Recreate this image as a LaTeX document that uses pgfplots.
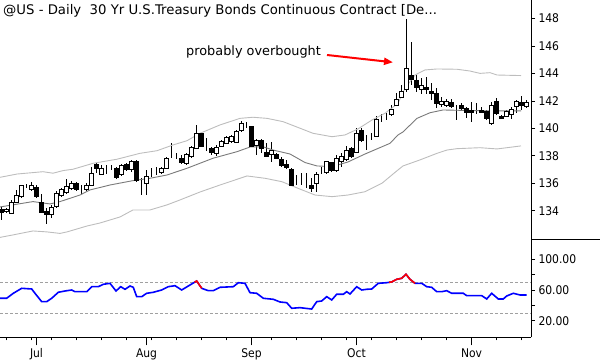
\documentclass[border=0pt]{standalone}
\usepackage{fontspec}
\setmainfont{DejaVu Sans Condensed}
\newfontfamily\titlefont{DejaVu Sans}
\usepackage{pgfplots}
\pgfplotsset{compat=1.18}
\usepackage{pgfplotstable}
\usetikzlibrary{arrows.meta}
\definecolor{midgray}{HTML}{7A7A7A}
\definecolor{bandgray}{HTML}{BDBDBD}
\definecolor{dashgray}{HTML}{A0A0A0}
\definecolor{rsiblue}{HTML}{0000FF}
\definecolor{rsired}{HTML}{FF0000}
\pgfplotstableread{
i o h l c
0 134.05 134.29 133.32 133.88
1 133.93 134.22 133.81 134.10
2 133.81 134.78 133.76 134.61
3 134.61 135.51 134.56 135.14
4 135.02 135.87 134.95 135.80
5 135.80 135.95 135.66 135.80
6 135.51 136.11 135.44 135.80
7 135.68 135.87 134.90 135.02
8 134.61 135.22 133.85 133.85
9 133.93 134.17 133.01 133.69
10 133.69 134.42 133.45 134.25
11 134.29 135.44 134.22 135.22
12 135.14 135.63 135.02 135.56
13 135.31 136.29 135.24 135.75
14 135.58 136.16 135.51 136.00
15 136.00 136.11 135.46 135.51
16 135.58 135.87 135.20 135.58
17 135.51 136.00 135.44 135.80
18 135.87 137.21 135.82 136.73
19 137.38 137.45 136.73 137.04
20 136.65 137.33 136.60 137.09
21 137.09 137.33 136.65 137.09
22 137.16 137.33 136.97 137.16
23 137.09 137.21 136.31 136.41
24 136.60 137.38 136.55 137.26
25 137.33 137.45 136.89 136.97
26 136.97 137.70 136.84 137.55
27 137.57 137.70 136.11 136.19
28 136.19 136.36 135.14 136.19
29 135.95 136.97 135.14 136.48
30 136.73 137.09 136.48 136.73
31 136.97 137.16 136.60 136.97
32 136.77 137.21 136.67 137.09
33 137.09 137.94 137.02 137.82
34 137.99 138.91 137.82 137.99
35 138.06 138.23 137.75 138.06
36 137.82 138.06 137.40 137.50
37 137.45 138.18 137.33 138.06
38 137.94 138.72 137.87 138.62
39 138.55 140.25 138.48 139.59
40 139.59 139.69 138.62 138.66
41 138.55 139.28 138.37 138.55
42 138.55 138.62 138.06 138.23
43 138.18 138.79 137.99 138.62
44 138.66 139.15 138.62 139.03
45 138.91 139.44 138.86 139.32
46 139.03 139.52 138.96 139.39
47 138.96 139.88 138.91 139.76
48 139.83 140.54 139.76 140.32
49 140.25 140.49 140.01 140.25
50 140.12 140.17 138.62 138.66
51 138.72 139.20 138.06 139.10
52 139.15 139.20 138.18 138.55
53 138.23 138.91 137.89 137.94
54 138.13 139.03 137.57 138.42
55 138.06 138.18 137.77 137.82
56 137.70 137.94 137.18 137.26
57 137.40 137.70 137.02 137.16
58 137.02 137.09 135.80 135.87
59 136.11 136.60 135.87 136.11
60 136.04 136.73 135.87 136.04
61 136.04 136.73 135.63 136.04
62 135.87 136.36 135.38 135.63
63 135.95 136.84 135.38 136.67
64 136.84 137.21 136.67 136.84
65 136.77 137.64 136.67 137.57
66 137.50 137.57 136.84 136.92
67 136.92 138.06 136.84 137.82
68 137.57 138.23 137.21 137.94
69 137.70 138.72 137.64 138.37
70 138.55 138.66 137.82 137.94
71 138.23 140.01 138.18 139.64
72 139.88 140.01 139.03 139.10
73 139.28 139.52 138.42 139.28
74 139.39 139.69 139.15 139.39
75 139.44 140.90 139.39 140.61
76 140.85 141.05 140.49 140.85
77 140.81 141.10 140.61 140.81
78 140.98 141.70 140.90 141.34
79 141.70 142.56 141.63 142.12
80 142.26 143.16 142.19 142.72
81 142.87 148.01 142.63 144.38
82 143.82 146.32 143.16 143.53
83 143.48 143.89 142.67 143.01
84 142.82 143.65 142.51 143.16
85 143.01 143.72 142.51 142.82
86 142.67 143.28 142.05 142.51
87 142.56 142.92 141.45 141.81
88 141.75 142.27 141.53 141.94
89 141.70 142.17 141.56 141.98
90 141.85 142.12 141.50 141.56
91 141.46 141.70 140.59 141.46
92 141.70 141.82 141.32 141.46
93 141.46 141.58 140.74 141.17
94 141.29 141.95 140.49 141.14
95 141.22 141.87 141.05 141.22
96 141.29 141.58 141.10 141.14
97 141.22 141.34 140.59 140.74
98 140.37 141.95 140.25 141.70
99 141.94 142.19 140.98 141.10
100 140.88 140.98 140.70 140.72
101 140.90 141.34 140.85 141.22
102 140.98 141.58 140.66 141.34
103 141.60 142.04 141.10 141.99
104 141.92 142.34 141.32 141.68
105 141.60 142.04 141.46 141.87
}\candles
\begin{document}
\begin{tikzpicture}
\useasboundingbox (0bp,0bp) rectangle (600bp,360bp);
\pgfplotsset{every axis/.append style={scale only axis, anchor=south west,
  xmin=-0.3, xmax=105.9, width=531bp,
  /pgf/number format/assume math mode=true,
  tick label style={font=\fontsize{12}{14}\selectfont, black},
  tick style={black, line width=0.8bp},
  axis line style={black, line width=1bp, -}}}
% ---------- main panel: wicks, bands, right axis
\begin{axis}[at={(0bp,120bp)}, height=240bp, ymin=131.86, ymax=149.36,
  axis x line=none, axis y line*=right, yticklabel pos=right,
  ytick={134,136,...,148}, tick align=outside, major tick length=4bp,
  clip=true]
\addplot[draw=none, mark=none, error bars/.cd, y dir=both, y explicit,
  error mark=none, error bar style={draw=black, solid, line width=1bp}]
  table[x=i, y expr={(\thisrow{h}+\thisrow{l})/2}, y error expr={(\thisrow{h}-\thisrow{l})/2}] {\candles};
\addplot[bandgray, line width=0.9bp] coordinates {(-0.3,136.43) (3.1,136.67) (8.3,136.84) (10.3,136.73) (12.3,136.92) (14.3,137.02) (18.3,137.45) (23.1,137.75) (27.7,138.18) (31.1,138.37) (34.3,138.79) (37.1,139.10) (39.7,139.64) (43.7,140.25) (47.7,140.73) (50.3,140.81) (53.1,140.73) (56.3,140.49) (59.7,140.01) (62.3,139.64) (66.1,139.39) (68.7,139.52) (71.3,139.96) (74.1,140.61) (76.7,141.10) (79.3,141.83) (80.7,142.92) (82.7,143.89) (84.7,144.26) (87.1,144.33) (91.1,144.31) (93.7,144.18) (95.7,144.01) (97.7,144.06) (99.1,143.89) (103.9,143.85)};
\addplot[bandgray, line width=0.9bp] coordinates {(-0.3,132.05) (2.3,132.23) (6.3,132.52) (9.1,132.45) (11.7,132.34) (13.1,132.45) (17.1,132.88) (19.7,133.10) (23.7,133.54) (26.3,134.05) (29.7,134.05) (33.1,134.42) (35.7,134.78) (39.7,135.36) (43.7,135.87) (49.1,136.53) (52.7,136.36) (56.1,136.11) (59.3,135.63) (62.7,135.14) (66.1,135.02) (69.3,135.14) (72.7,135.38) (76.1,136.00) (79.3,136.97) (80.3,137.26) (83.7,137.70) (87.1,138.18) (89.1,138.42) (91.1,138.52) (95.7,138.59) (99.1,138.50) (103.9,138.72)};
\addplot[midgray, line width=0.9bp] coordinates {(-0.3,134.27) (6.3,134.66) (9.7,134.49) (11.7,134.66) (15.7,135.14) (17.7,135.51) (21.7,135.87) (26.3,136.19) (29.7,136.36) (33.1,136.60) (37.1,137.09) (42.3,137.82) (47.1,138.30) (49.7,138.64) (52.3,138.66) (54.3,138.42) (57.7,138.13) (60.7,137.51) (63.1,137.26) (66.1,137.21) (69.3,137.55) (72.7,138.13) (76.1,138.66) (77.7,138.91) (79.3,139.52) (80.3,139.74) (83.1,140.73) (85.7,141.14) (88.3,141.34) (93.7,141.30) (100.3,141.27) (103.9,141.27)};
\end{axis}
% ---------- candle bodies
\begin{axis}[at={(0bp,120bp)}, height=240bp, ymin=131.86, ymax=149.36,
  hide axis, ybar stacked, bar width=3.6bp, clip=true]
\addplot[draw=none, fill=none] table[x=i, y expr={min(\thisrow{o},\thisrow{c})}] {\candles};
\addplot[draw=black, fill=white, line width=1bp] table[x=i, y expr={max(\thisrow{c}-\thisrow{o},0)}] {\candles};
\addplot[draw=black, fill=black, line width=1bp] table[x=i, y expr={max(\thisrow{o}-\thisrow{c},0)}] {\candles};
\end{axis}
% ---------- RSI panel
\begin{axis}[at={(0bp,22.7bp)}, height=97.3bp, ymin=-1.6, ymax=125.1,
  axis x line*=bottom, axis y line=none, xticklabel pos=bottom,
  xtick={7,29,50,71,94}, xticklabels={Jul,Aug,Sep,Oct,Nov},
  minor xtick={1,6,10,15,20,25,30,35,40,45,54,59,64,69,74,79,84,89,99,104},
  tick align=outside, major tick length=8bp, minor tick length=3bp,
  ytick=\empty, clip=true]
\addplot[dashgray, line width=0.9bp, dash pattern=on 3bp off 2bp] coordinates {(-0.3,70) (105.9,70)};
\addplot[dashgray, line width=0.9bp, dash pattern=on 3bp off 2bp] coordinates {(-0.3,30) (105.9,30)};
\addplot[rsiblue, line width=1.6bp] coordinates {(-0.3,49.2) (1.04,49.2) (2.36,55.7) (4.04,62.2) (6.04,61.3) (6.7,55.7) (8.04,44.8) (9.04,44.8) (10.04,49.2) (11.36,57.0) (12.7,58.7) (14.04,60) (14.7,57.8) (17.04,57.8) (18.04,64.3) (19.36,64.3) (20.36,67.4) (21.7,68.7) (22.9,58.7) (23.84,64.3) (24.7,60.9) (25.7,65.2) (26.36,63.5) (27.04,51.3) (28.04,51.3) (29.04,55.7) (30.36,57) (32.04,60) (33.36,64.3) (34.7,65.6) (36.04,60) (37.36,65.2) (39.04,71.7) (40.04,62.2) (41.36,59.1) (42.36,59.1) (43.7,63.5) (46.36,64.3) (47.36,69.5) (48.7,68.7) (49.7,56.5) (51.04,55.7) (52.36,49.2) (54.36,47.9) (55.7,44.4) (57.04,43.5) (58.04,36.2) (59.7,37) (62.04,35.2) (63.04,44.8) (64.04,45.7) (65.04,51.3) (66.04,47) (67.04,54.4) (68.36,54.4) (69.04,57.8) (69.7,54.8) (71.04,64.3) (72.04,60) (73.04,60.9) (74.04,61.3) (75.36,68.7) (77.04,69.5) (78.04,70.5) (79.04,73.9) (80.04,75.2) (80.9,80.5) (81.7,73.9) (82.7,68.7) (84.04,68.7) (85.04,64.3) (86.04,63.5) (87.04,57.8) (88.04,57.8) (89.04,59.1) (90.04,55.7) (92.36,55.7) (93.04,52.6) (96.04,52.6) (97.04,48.3) (98.04,55.7) (99.36,48.3) (100.36,48.3) (101.04,52.2) (102.36,55.7) (103.7,53.5) (105.04,53.5)};
\addplot[rsired, line width=1.6bp] coordinates {(38.6,70) (39.04,71.7) (40.04,62.2)};
\addplot[rsired, line width=1.6bp] coordinates {(77.5,70) (78.04,70.5) (79.04,73.9) (80.04,75.2) (80.9,80.5) (81.7,73.9) (82.7,68.7)};
\end{axis}
% ---------- RSI right axis labels
\begin{axis}[at={(0bp,22.7bp)}, height=97.3bp, ymin=-1.6, ymax=125.1,
  axis x line=none, axis y line*=right, yticklabel pos=right,
  ytick={20,60,100}, minor ytick={40,80}, tick align=outside,
  major tick length=4bp, minor tick length=4bp,
  yticklabel={\pgfmathprintnumber[fixed,fixed zerofill,precision=2]{\tick}}]
\addplot[draw=none] coordinates {(0,50)};
\end{axis}
\draw[black, line width=1bp] (531bp,120bp) -- (600bp,120bp);
\node[anchor=base west, inner sep=0pt, font=\titlefont\fontsize{13.3}{15}\selectfont] at (3bp,345bp) {@US - Daily\ \ 30 Yr U.S.Treasury Bonds Continuous Contract [De...};
\node[anchor=base west, inner sep=0pt, font=\titlefont\fontsize{12.9}{15}\selectfont] at (186bp,304bp) {probably overbought};
\draw[rsired, line width=2bp, -{Triangle[length=9bp, width=7bp]}] (327bp,305bp) -- (393bp,297.7bp);
\end{tikzpicture}
\end{document}
